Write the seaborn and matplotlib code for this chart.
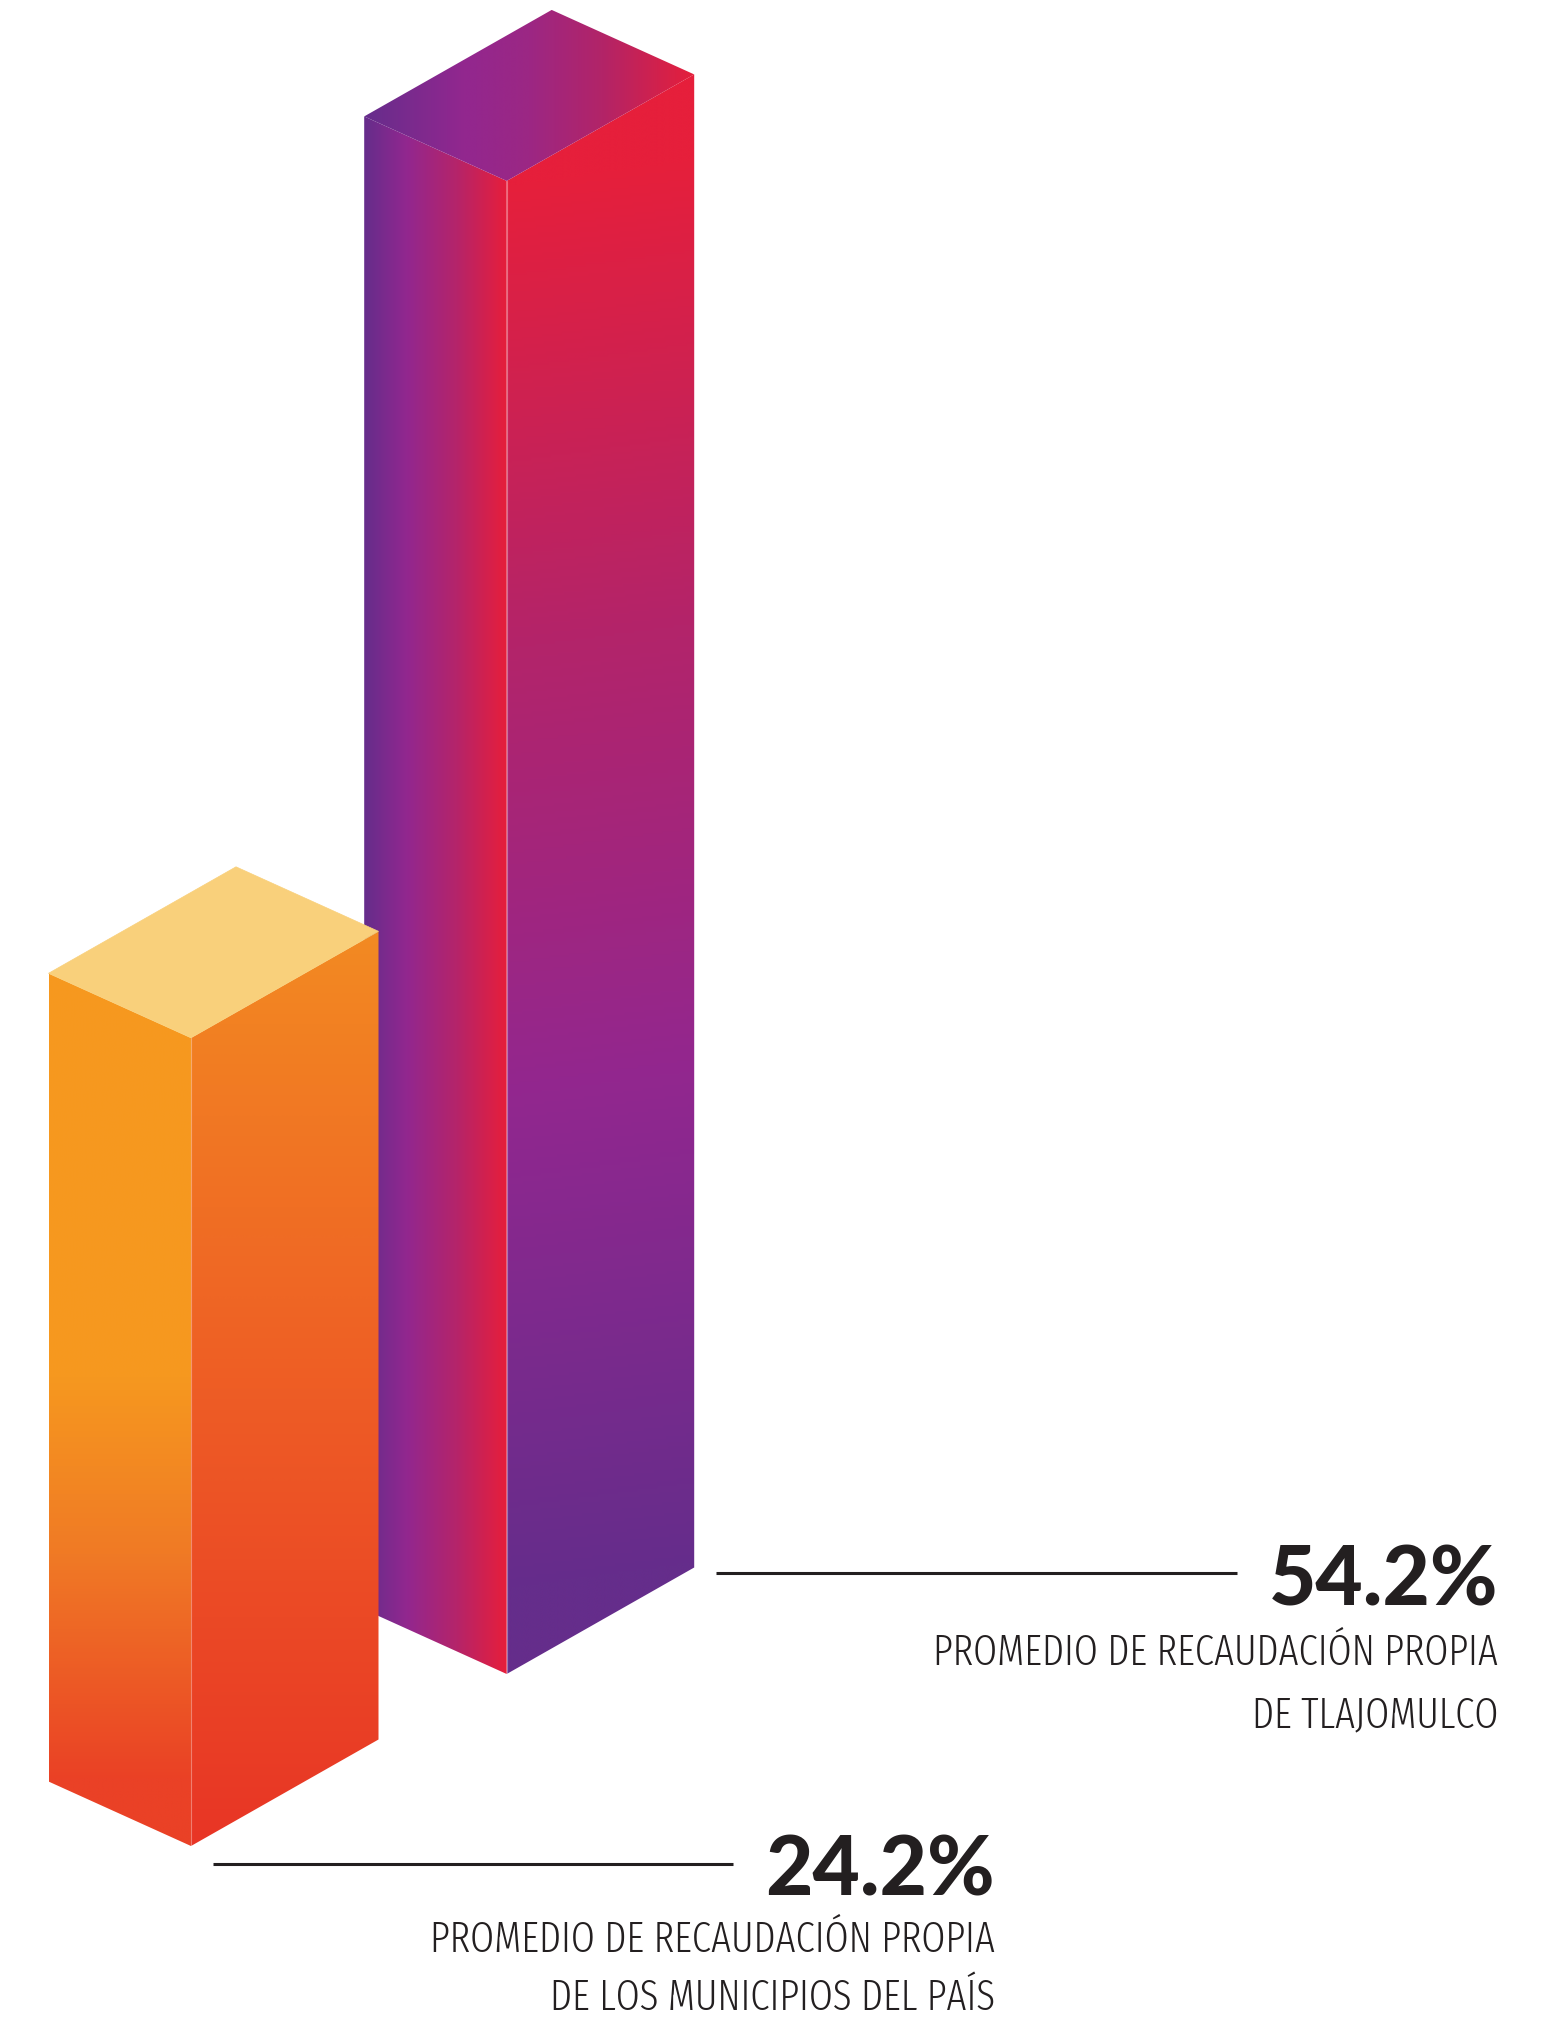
# Isometric bar chart: own-revenue average, Tlajomulco vs national municipalities

import numpy as np
import seaborn as sns
import matplotlib.pyplot as plt
from matplotlib.patches import Polygon
from matplotlib.colors import LinearSegmentedColormap
from matplotlib import font_manager as fm

# data
values = [24.2, 54.2]
pct_labels = [f"{v:.1f}%" for v in values]
label_line1 = ["PROMEDIO DE RECAUDACIÓN PROPIA", "PROMEDIO DE RECAUDACIÓN PROPIA"]
label_line2 = ["DE LOS MUNICIPIOS DEL PAÍS", "DE TLAJOMULCO"]

# layout in pixels (canvas 1547 x 2017)
W, H = 1547, 2017
front_base = [(191.0, 1846.0), (506.7, 1674.0)]   # front-bottom corner of each prism
left_vec = np.array([-142.5, -64.5])
right_vec = np.array([187.5, -106.5])
axis_min = -11.2          # value at the base of the bars
px_per_unit = 22.83

text_right = [995, 1498]
rule_x = [(213, 733), (716, 1237)]
rule_y = [1864, 1573]
num_base = [1895, 1605]
l1_base = [1952, 1665]
l2_base = [2010, 1727]
ink = "#231f20"

sns.set_theme(style="white")

# colour ramps per face
orange_top = "#f9d07b"
orange_left = LinearSegmentedColormap.from_list(
    "ol", [(0, "#f7991f"), (0.5, "#f6981f"), (0.72, "#f07a25"), (1, "#ea4126")])
orange_right = sns.blend_palette(["#f38a22", "#ee5d25", "#e83526"], as_cmap=True)
purple_top = LinearSegmentedColormap.from_list(
    "pt", [(0, "#662d8c"), (0.3, "#92278f"), (0.5, "#9c2784"), (0.72, "#b22468"), (1, "#e51f3b")])
purple_left = LinearSegmentedColormap.from_list(
    "pl", [(0, "#652d8b"), (0.3, "#92278f"), (0.65, "#b5246a"), (1, "#e61e3b")])
purple_right = LinearSegmentedColormap.from_list(
    "pr", [(0, "#e61f3b"), (0.33, "#b3246a"), (0.65, "#92278f"), (1, "#652d8b")])


def grad_face(ax, pts, cmap, p0, p1, z):
    pts = np.asarray(pts, dtype=float)
    x0, y0 = pts.min(0)
    x1, y1 = pts.max(0)
    X, Y = np.meshgrid(np.linspace(x0, x1, 400), np.linspace(y0, y1, 600))
    d = np.asarray(p1, float) - np.asarray(p0, float)
    t = ((X - p0[0]) * d[0] + (Y - p0[1]) * d[1]) / (d @ d)
    poly = Polygon(pts, closed=True, facecolor="none", edgecolor="none")
    ax.add_patch(poly)
    im = ax.imshow(np.clip(t, 0, 1), cmap=cmap, vmin=0, vmax=1, extent=(x0, x1, y1, y0),
                   origin="upper", interpolation="bilinear", aspect="auto", zorder=z)
    im.set_clip_path(poly)


def find_condensed():
    # narrowest regular-ish face that is installed
    best, best_key = None, None
    for f in fm.fontManager.ttflist:
        nm = (f.name + " " + f.fname).lower().replace(" ", "").replace("-", "").replace("_", "")
        if "ultracondensed" in nm or "extracondensed" in nm:
            r = 0
        elif "semicondensed" in nm or str(f.stretch) == "semi-condensed":
            r = 3
        elif "condensed" in nm or "narrow" in nm or str(f.stretch) in ("condensed", "extra-condensed"):
            r = 2
        else:
            continue
        if f.style != "normal" or "italic" in nm:
            continue
        w = f.weight if isinstance(f.weight, int) else fm.weight_dict.get(f.weight, 400)
        key = (r, abs(w - 350))
        if best_key is None or key < best_key:
            best, best_key = f, key
    if best is None:
        return fm.FontProperties(family="DejaVu Sans")
    return fm.FontProperties(fname=best.fname)


fig = plt.figure(figsize=(W / 100, H / 100), dpi=100)
ax = fig.add_axes([0, 0, 1, 1])

faces = [(orange_top, orange_left, orange_right), (purple_top, purple_left, purple_right)]
zs = [3, 1]
for i, v in enumerate(values):
    F = np.array(front_base[i])
    h = px_per_unit * (v - axis_min)
    FT = F + np.array([0, -h])
    top_c, left_c, right_c = faces[i]
    z = zs[i]
    left_pts = [F, FT, FT + left_vec, F + left_vec]
    right_pts = [F, FT, FT + right_vec, F + right_vec]
    top_pts = [FT, FT + left_vec, FT + left_vec + right_vec, FT + right_vec]
    if i == 0:
        grad_face(ax, left_pts, left_c, FT + left_vec, F + left_vec, z)
        grad_face(ax, right_pts, right_c, FT + right_vec, ((FT + right_vec)[0], F[1]), z)
        ax.add_patch(Polygon(top_pts, closed=True, facecolor=top_c, edgecolor=top_c, lw=0.5, zorder=z))
    else:
        xl = (FT + left_vec)[0]
        grad_face(ax, left_pts, left_c, (xl, 0), (F[0], 0), z)
        grad_face(ax, right_pts, right_c, FT, F + right_vec, z)
        grad_face(ax, top_pts, top_c, (xl, 0), ((FT + right_vec)[0], 0), z)
    # faint highlight on the front edge
    ax.plot([F[0], FT[0]], [F[1], FT[1]], color="white", alpha=0.35, lw=0.8, zorder=z + 0.5)

ax.set_xlim(0, W)
ax.set_ylim(H, 0)
ax.axis("off")

# labels
cond_fp = find_condensed()
num_fp = fm.FontProperties(family=["Lato", "DejaVu Sans"], weight="black")
renderer = fig.canvas.get_renderer()


def fit(txt, target_w, max_size, slack=1.0):
    w = txt.get_window_extent(renderer).width
    s = min(txt.get_fontsize() * target_w * slack / w, max_size)
    txt.set_fontsize(s)
    return s


for i in range(len(values)):
    ax.plot(rule_x[i], [rule_y[i], rule_y[i]], color=ink, lw=2.2, solid_capstyle="butt", zorder=5)
    tn = ax.text(text_right[i], num_base[i], pct_labels[i], ha="right", va="baseline",
                 fontproperties=num_fp, fontsize=58, color=ink, zorder=5)
    fit(tn, 229, 62)
    t1 = ax.text(text_right[i], l1_base[i], label_line1[i], ha="right", va="baseline",
                 fontproperties=cond_fp, fontsize=37, color=ink, zorder=5)
    s = fit(t1, 490, 40, slack=1.15)
    ax.text(text_right[i], l2_base[i], label_line2[i], ha="right", va="baseline",
            fontproperties=cond_fp, fontsize=s, color=ink, zorder=5)

fig.savefig("out.png", dpi=100, facecolor="white")
